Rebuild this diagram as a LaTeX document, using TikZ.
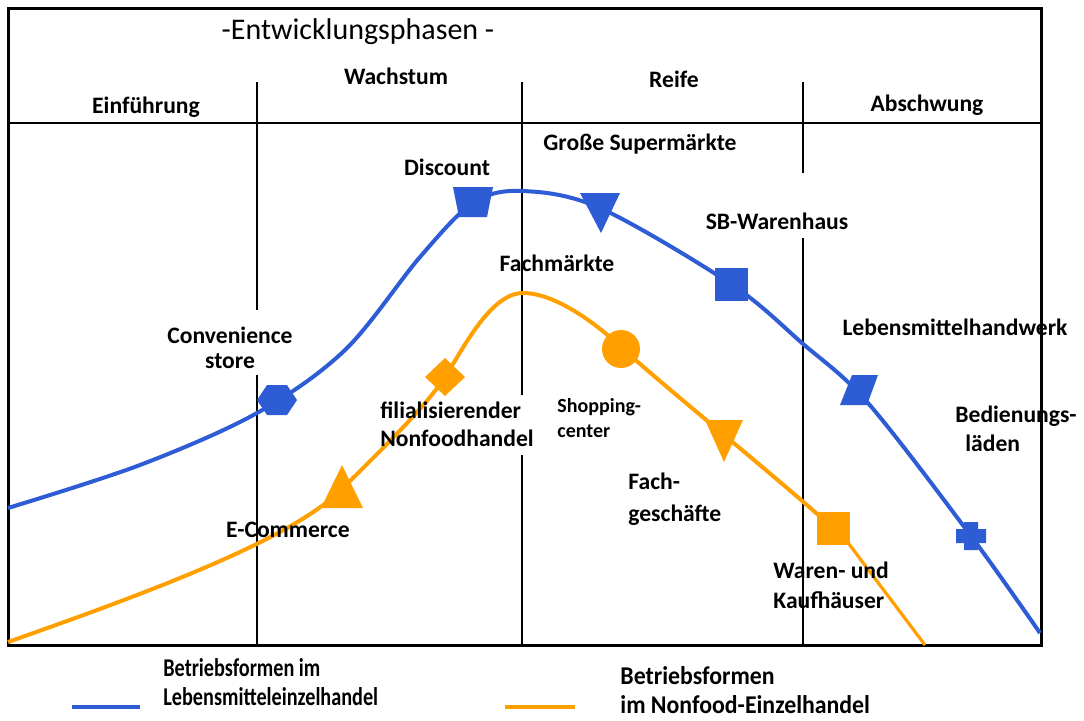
\documentclass[tikz,border=0pt]{standalone}
\usepackage{fontspec}
\setmainfont{Carlito}
\newfontfamily\legendfont[FakeStretch=0.79]{Carlito}
\newfontfamily\legendwidefont[FakeStretch=0.93]{Carlito}
\definecolor{foodblue}{RGB}{46,92,212}
\definecolor{nonfoodorange}{RGB}{255,160,0}

\begin{document}
\begin{tikzpicture}[x=0.5pt,y=-0.5pt,
  frame/.style={line width=1.5pt,black},
  divider/.style={line width=1pt,black},
  title/.style={font=\fontsize{15}{17}\selectfont, inner sep=0pt},
  lbl/.style={font=\bfseries\fontsize{11.8}{14}\selectfont, inner sep=0pt},
  smalllbl/.style={font=\bfseries\fontsize{10}{12.5}\selectfont, inner sep=0pt},
  legend/.style={inner sep=0pt, align=left, anchor=west},
  foodcurve/.style={foodblue, line width=2pt, line join=round},
  nonfoodcurve/.style={nonfoodorange, line width=2pt, line join=round},
  foodmark/.style={fill=foodblue},
  nonfoodmark/.style={fill=nonfoodorange},
]
\useasboundingbox (0,0) rectangle (1084,720);

% outer frame and header rule
\draw[frame] (8,8) rectangle (1041,645);
\draw[divider] (8,123) -- (1041,123);

% phase dividers (interrupted where labels sit on them)
\coordinate (d1t) at (257,82);  \coordinate (d1a) at (257,310);
\coordinate (d1b) at (257,375); \coordinate (d1e) at (257,645);
\coordinate (d2t) at (522,82);  \coordinate (d2a) at (522,395);
\coordinate (d2b) at (522,455); \coordinate (d2e) at (522,645);
\coordinate (d3t) at (803,82);  \coordinate (d3a) at (803,173);
\coordinate (d3b) at (803,238); \coordinate (d3e) at (803,645);
\draw[divider] (d1t) -- (d1a) (d1b) -- (d1e);
\draw[divider] (d2t) -- (d2a) (d2b) -- (d2e);
\draw[divider] (d3t) -- (d3a) (d3b) -- (d3e);

% header texts
\node[title] (ttl) at (358,32) {-Entwicklungsphasen -};
\node[lbl] (ph2) at (396,76) {Wachstum};
\node[lbl] (ph1) at (146,107) {Einführung};
\node[lbl] (ph3) at (674,79) {Reife};
\node[lbl] (ph4) at (927,105) {Abschwung};

% food retail curve
\draw[foodcurve] plot[smooth, tension=0.55] coordinates {
  (8,508) (140,465) (257,413) (345,350) (420,257) (473,203) (522,191)
  (600,208) (731,284) (802,343) (868,403) (971,536) (1040,633)};

% markers on the food curve
\coordinate (conv) at (277,400);
\coordinate (disc) at (473,202);
\coordinate (super) at (600,208);
\coordinate (sbw) at (731,284);
\coordinate (lmh) at (859,390);
\coordinate (bed) at (971,536);

% markers on the non-food curve
\coordinate (ecom) at (341,488);
\coordinate (filial) at (445,377);
\coordinate (npeak) at (523,293);
\coordinate (shop) at (621,349);
\coordinate (fachg) at (724,440);
\coordinate (kauf) at (833,528);
\coordinate (nstart) at (8,642);
\coordinate (nend) at (925,645);

% non-food retail curve
\draw[nonfoodcurve] (nstart) .. controls (150,592) and (290,540) .. (341,490)
  .. controls (375,456) and (425,408) .. (filial)
  .. controls (462,351) and (490,293) .. (npeak)
  .. controls (552,293) and (590,318) .. (621,347)
  .. controls (660,383) and (780,480) .. (kauf);
\draw[nonfoodcurve, line width=1.6pt] (846,540) -- (nend);

\fill[foodmark] (conv) ++(-20,0) -- ++(10,-15) -- ++(20,0) -- ++(10,15) -- ++(-10,15) -- ++(-20,0) -- cycle;
\fill[foodmark] (disc) ++(-20,-15) -- ++(40,0) -- ++(-6,30) -- ++(-28,0) -- cycle;
\fill[foodmark] (super) ++(-20,-15) -- ++(40,0) -- ++(-19,40) -- cycle;
\fill[foodmark] (sbw) ++(-16.5,-16.5) rectangle ++(33,33);
\fill[foodmark] (lmh) ++(-7,-15) -- ++(26,0) -- ++(-11,30) -- ++(-27,0) -- cycle;
\fill[foodmark] (bed) ++(-7,-14) -- ++(14,0) -- ++(0,7) -- ++(8,0) -- ++(0,14) -- ++(-8,0)
  -- ++(0,7) -- ++(-14,0) -- ++(0,-7) -- ++(-8,0) -- ++(0,-14) -- ++(8,0) -- cycle;

\fill[nonfoodmark] (ecom) ++(1,-23) -- ++(21,43) -- ++(-42,0) -- cycle;
\fill[nonfoodmark] (filial) ++(-20,0) -- ++(20,-19) -- ++(20,19) -- ++(-20,19) -- cycle;
\fill[nonfoodmark] (shop) circle[radius=19];
\fill[nonfoodmark] (fachg) ++(-19,-20) -- ++(38,0) -- ++(-19,42) -- cycle;
\fill[nonfoodmark] (kauf) ++(-16.5,-16.5) rectangle ++(33,33);

% store-format labels
\node[lbl] (lsuper) at (640,144) {Große Supermärkte};
\node[lbl] (ldisc) at (447,167) {Discount};
\node[lbl] (lsbw) at (777,221) {SB-Warenhaus};
\node[lbl] (lfachm) at (557,263) {Fachmärkte};
\node[lbl, align=center, font=\bfseries\fontsize{11.8}{12.6}\selectfont] (lconv) at (230,348) {Convenience\\store};
\node[lbl] (llmh) at (955,327) {Lebensmittelhandwerk};
\node[lbl, align=left, anchor=west] (lfilial) at (380,424) {filialisierender\\Nonfoodhandel};
\node[smalllbl, align=left, anchor=west] (lshop) at (557,418) {Shopping-\\center};
\node[lbl, align=left, anchor=west, font=\bfseries\fontsize{11.8}{14.5}\selectfont] (lbed) at (955,429) {Bedienungs-\\\hspace*{5pt}läden};
\node[lbl, align=left, anchor=west, font=\bfseries\fontsize{11.8}{16}\selectfont] (lfachg) at (628,499) {Fach-\\geschäfte};
\node[lbl] (lecom) at (288,530) {E-Commerce};
\node[lbl, align=left, anchor=west, font=\bfseries\fontsize{11.8}{15}\selectfont] (lkauf) at (773,585) {Waren- und\\Kaufhäuser};

% legend
\coordinate (lgf1) at (72,707);  \coordinate (lgf2) at (140,707);
\coordinate (lgn1) at (505,707); \coordinate (lgn2) at (575,707);
\draw[foodcurve, line width=2pt] (lgf1) -- (lgf2);
\draw[nonfoodcurve, line width=2pt] (lgn1) -- (lgn2);
\node[legend, font=\legendfont\bfseries\fontsize{12.8}{14.5}\selectfont] (legf) at (163,682) {Betriebsformen im\\Lebensmitteleinzelhandel};
\node[legend, font=\legendwidefont\bfseries\fontsize{12.8}{14.5}\selectfont] (legn) at (620,690) {Betriebsformen\\im Nonfood-Einzelhandel};
\end{tikzpicture}
\end{document}
